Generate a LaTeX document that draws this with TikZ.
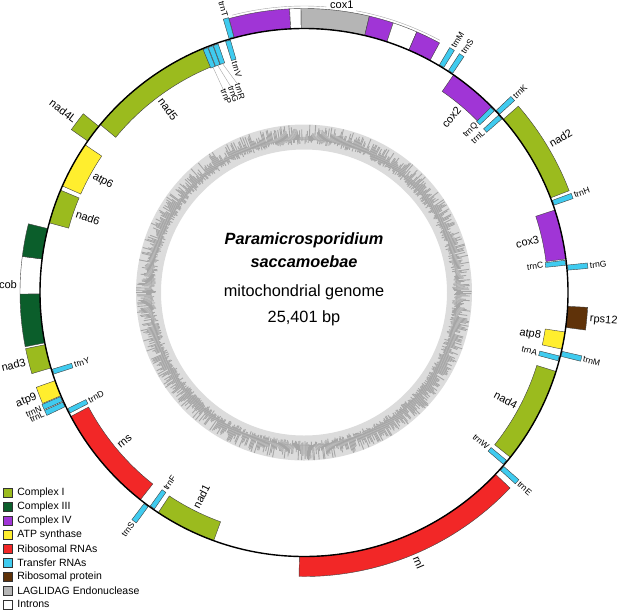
\documentclass[tikz,border=0pt]{standalone}
\usepackage{fontspec}
\setmainfont{Liberation Sans}
\usepackage{xcolor}
\usetikzlibrary{positioning}

\definecolor{cplxone}{HTML}{9BBB1E}
\definecolor{cplxthree}{HTML}{0B5E2B}
\definecolor{cplxfour}{HTML}{A035D6}
\definecolor{atpsyn}{HTML}{FFEE2E}
\definecolor{rrna}{HTML}{F22727}
\definecolor{trna}{HTML}{3FCBEF}
\definecolor{ribprot}{HTML}{5F3209}
\definecolor{lagli}{HTML}{B5B5B5}
\definecolor{gclight}{HTML}{DCDCDC}
\definecolor{gcdark}{HTML}{A6A6A6}

\tikzset{
    feature/.style={
        draw=black!75,
        line width=0.4pt
    },
    backbone/.style={
        draw=black,
        line width=1.4pt
    },
    leader/.style={
        draw=black!35,
        line width=0.4pt
    },
    genelabel/.style={
        font=\fontsize{11}{12}\selectfont,
        inner sep=0pt
    },
    trnalabel/.style={
        font=\fontsize{8.6}{10}\selectfont,
        inner sep=0pt
    },
    keybox/.style={
        draw=black!80,
        line width=0.4pt,
        minimum size=9pt,
        inner sep=0pt
    },
    keytext/.style={
        font=\fontsize{10.5}{12}\selectfont,
        inner sep=0pt
    },
    gcspike/.style={
        draw=gcdark,
        line width=0.9pt
    }
}

% ring segment between two positions (degrees clockwise from top)
\newcommand{\arcbox}[5]{%
  \filldraw[feature, fill=#5] ({90-(#1)}:#3pt) arc[start angle={90-(#1)}, end angle={90-(#2)}, radius=#3pt]
    -- ({90-(#2)}:#4pt) arc[start angle={90-(#2)}, end angle={90-(#1)}, radius=#4pt] -- cycle;}
\newcommand{\outbox}[3]{\arcbox{#1}{#2}{264}{284}{#3}}
\newcommand{\inbox}[3]{\arcbox{#1}{#2}{244}{264}{#3}}
\newcommand{\trnout}[1]{\arcbox{#1-0.55}{#1+0.55}{265}{285}{trna}}
\newcommand{\trnin}[1]{\arcbox{#1-0.55}{#1+0.55}{243}{263}{trna}}

% radial label: style, name, position, radius, side (1 out / 0 in), text
\newcommand{\featlabel}[6][genelabel]{%
  \pgfmathsetmacro{\lang}{90-(#3)}%
  \pgfmathsetmacro{\lrot}{(#3)<180 ? 90-(#3) : 270-(#3)}%
  \pgfmathtruncatemacro{\lwest}{((#3)<180)==(#5==1)}%
  \ifnum\lwest=1 \def\lanc{west}\else\def\lanc{east}\fi
  \node[#1, rotate=\lrot, anchor=\lanc] (#2) at (\lang:#4pt) {#6};}

\begin{document}
\begin{tikzpicture}[x=1pt, y=1pt]
  \useasboundingbox (-304,-321.5) rectangle (313,292.5);

  % GC ring
  \fill[gclight, even odd rule] (0,0) circle[radius=168pt] (0,0) circle[radius=143pt];
  \pgfmathsetseed{42}
  \foreach \a in {0,0.4,...,359.6} {
    \pgfmathsetlengthmacro{\hin}{153pt-5pt*rnd}
    \pgfmathsetlengthmacro{\hout}{155pt+13pt*rnd}
    \draw[gcspike] (\a:\hin) -- (\a:\hout);
  }
  \draw[gcdark, line width=0.4pt] (0,0) circle[radius=153pt];

  % Genes outside
  \foreach \s/\e/\c in {344.7/357.1/cplxfour, 357.1/359.4/white, 359.4/373.3/lagli,
      373.3/378.3/cplxfour, 378.3/383.4/white, 383.4/388.5/cplxfour,
      49/69/cplxone, 93/97.6/ribprot, 133.5/181/rrna, 247/250.5/atpsyn,
      253.4/258.6/cplxone, 259/269.7/cplxthree, 269.7/277.3/white,
      277.3/284/cplxthree, 305/309/cplxone} {
    \outbox{\s}{\e}{\c}
  }

  % Genes inside
  \foreach \s/\e/\c in {34.5/45.5/cplxfour, 71.8/82.7/cplxfour, 98.6/102.4/atpsyn,
      107.4/128.6/cplxone, 200/213.5/cplxone, 218.3/242/rrna,
      285.3/292.8/cplxone, 293.8/304/atpsyn, 309.5/337.5/cplxone} {
    \inbox{\s}{\e}{\c}
  }

  % tRNAs outside
  \foreach \t/\n/\txt in {344.1/trnT/trnT, 31.3/trnMa/trnM, 33.6/trnSa/trnS,
      47.1/trnK/trnK, 70.2/trnH/trnH, 84.6/trnGb/trnG, 103.4/trnMb/trnM,
      131.6/trnE/trnE, 216.6/trnSb/trnS, 245.0/trnLb/trnL, 246.3/trnN/trnN} {
    \trnout{\t}
    \featlabel[trnalabel]{\n}{\t}{287}{1}{\txt}
  }

  % tRNAs inside
  \foreach \t/\n/\txt in {343.2/trnV/trnV, 45.8/trnQ/trnQ, 48.2/trnLa/trnL,
      83.5/trnC/trnC, 104.5/trnA/trnA, 130.2/trnW/trnW, 215.2/trnF/trnF,
      243.3/trnD/trnD, 252.5/trnY/trnY} {
    \trnin{\t}
    \featlabel[trnalabel]{\n}{\t}{241}{0}{\txt}
  }

  % tRNA cluster with leaders
  \foreach \t/\n/\lt/\txt in {338.0/trnP/338.3/trnP, 339.2/trnGa/340.4/trnG,
      340.4/trnR/342.3/trnR} {
    \trnin{\t}
    \coordinate (\n-e) at ({90-\t}:243pt);
    \featlabel[trnalabel]{\n}{\lt}{219}{0}{\txt}
    \draw[leader] (\n-e) -- (\n.west);
  }

  % Backbone
  \draw[backbone] (0,0) circle[radius=264pt];

  % Gene labels
  \foreach \n/\t/\side/\r in {nad2/59/1/287, rps12/95.3/1/287, rnl/157/1/287,
      atp9/248.7/1/287, nad3/256/1/287, cob/271.5/1/287, nad4L/307/1/286,
      cox2/40/0/241, cox3/77.2/0/241, atp8/100.5/0/241, nad4/118/0/241,
      nad1/206.7/0/241, rns/230.2/0/241, nad6/289/0/241, atp6/299/0/241,
      nad5/323.5/0/241} {
    \featlabel{\n}{\t}{\r}{\side}{\n}
  }

  % cox1 bracket
  \node[genelabel] (cox1) at (82.5:290pt) {cox1};
  \coordinate (cox1a) at (104.5:286.5pt);
  \coordinate (cox1b) at (61.7:286.5pt);
  \draw[leader] (cox1a) arc[start angle=104.5, end angle=85.5, radius=286.5pt];
  \draw[leader] (cox1b) arc[start angle=61.7, end angle=79.5, radius=286.5pt];

  % Centre text
  \node[font=\fontsize{16.3}{18}\selectfont\bfseries\itshape] (title) at (0,52.5) {Paramicrosporidium};
  \node[font=\fontsize{16.3}{18}\selectfont\bfseries\itshape] (species) at (0,30.5) {saccamoebae};
  \node[font=\fontsize{16.3}{18}\selectfont] (kind) at (0,0.5) {mitochondrial genome};
  \node[font=\fontsize{16.3}{18}\selectfont] (size) at (0,-25.5) {25,401 bp};

  % Legend
  \foreach \c/\txt [count=\i from 0] in {cplxone/Complex I, cplxthree/Complex III,
      cplxfour/Complex IV, atpsyn/ATP synthase, rrna/Ribosomal RNAs,
      trna/Transfer RNAs, ribprot/Ribosomal protein,
      lagli/LAGLIDAG Endonuclease, white/Introns} {
    \node[keybox, fill=\c] (key\i) at (-296.5, {292.5-493-13.9*\i}) {};
    \node[keytext, right=5pt of key\i] (keylabel\i) {\txt};
  }
\end{tikzpicture}
\end{document}
